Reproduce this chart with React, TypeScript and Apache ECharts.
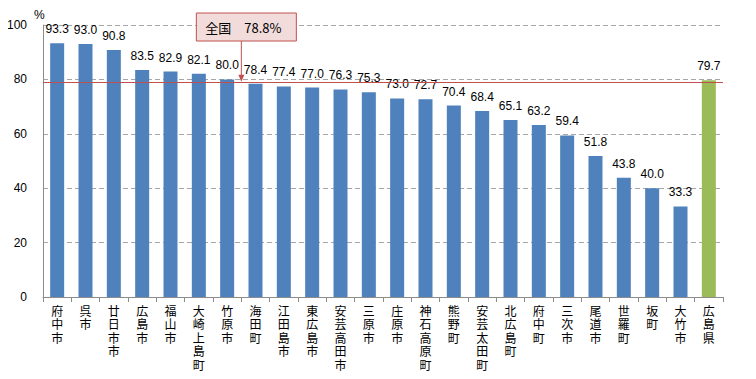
import React, { useEffect, useRef } from "react";
import * as echarts from "echarts";

const categories = [
  "府中市", "呉市", "廿日市市", "広島市", "福山市", "大崎上島町", "竹原市", "海田町",
  "江田島市", "東広島市", "安芸高田市", "三原市", "庄原市", "神石高原町", "熊野町",
  "安芸太田町", "北広島町", "府中町", "三次市", "尾道市", "世羅町", "坂町", "大竹市", "広島県",
];
const values = [
  93.3, 93.0, 90.8, 83.5, 82.9, 82.1, 80.0, 78.4, 77.4, 77.0, 76.3, 75.3, 73.0, 72.7, 70.4,
  68.4, 65.1, 63.2, 59.4, 51.8, 43.8, 40.0, 33.3, 79.7,
];
const nationalValue = 78.8;
const nationalLabel = "全国";
const calloutAfterIndex = 6; // arrow between this category and the next
const yTicks = { min: 0, max: 100, interval: 20 };

export default function App() {
  const ref = useRef<HTMLDivElement>(null);
  useEffect(() => {
    if (!ref.current) return;
    const chart = echarts.init(ref.current, undefined, { renderer: "svg" });
    const blue = "#4F81BD";
    const green = "#9BBB59";
    const red = "#C0504D";
    chart.setOption({
      animation: false,
      grid: { left: 43, right: 33, top: 25, bottom: 82 },
      xAxis: {
        type: "category",
        data: categories,
        axisLine: { lineStyle: { color: "#8C8C8C" } },
        axisTick: { show: true, length: 5, lineStyle: { color: "#8C8C8C" } },
        axisLabel: {
          interval: 0,
          margin: 8,
          fontSize: 12,
          lineHeight: 13.5,
          color: "#000",
          fontFamily: "'Liberation Sans', 'Noto Sans CJK JP'",
          verticalAlign: "top",
          formatter: (v: string) => v.split("").join("\n"),
        },
      },
      yAxis: {
        type: "value",
        min: yTicks.min,
        max: yTicks.max,
        interval: yTicks.interval,
        axisLine: { show: true, lineStyle: { color: "#8C8C8C" } },
        axisTick: { show: false },
        splitLine: { lineStyle: { color: "#A6A6A6", type: [5, 3] } },
        axisLabel: { margin: 16, fontSize: 12, color: "#000", fontFamily: "Liberation Sans" },
      },
      series: [
        {
          type: "bar",
          data: values.map((v, i) => ({
            value: v,
            itemStyle: { color: i === values.length - 1 ? green : blue },
          })),
          barWidth: 14,
          label: {
            show: true,
            position: "top",
            distance: 8,
            fontSize: 12,
            color: "#000",
            fontFamily: "Liberation Sans",
            formatter: (p: any) => p.value.toFixed(1),
          },
          markLine: {
            silent: true,
            symbol: "none",
            label: { show: false },
            lineStyle: { color: red, type: "solid", width: 1 },
            data: [{ yAxis: nationalValue }],
          },
        },
      ],
    });
    const p1 = chart.convertToPixel({ gridIndex: 0 }, [calloutAfterIndex, nationalValue]) as number[];
    const p2 = chart.convertToPixel({ gridIndex: 0 }, [calloutAfterIndex + 1, nationalValue]) as number[];
    const ax = (p1[0] + p2[0]) / 2;
    const ay = p1[1] - 1;
    const boxW = 100;
    const boxH = 28;
    const boxX = ax - 45;
    const boxY = 13;
    chart.setOption({
      graphic: [
        {
          type: "text",
          left: 34,
          top: 9,
          style: { text: "%", fontSize: 12, fill: "#000", fontFamily: "Liberation Sans" },
        },
        {
          type: "line",
          shape: { x1: ax, y1: boxY + boxH, x2: ax, y2: ay - 5 },
          style: { stroke: red, lineWidth: 1 },
        },
        {
          type: "polygon",
          shape: { points: [[ax - 3, ay - 7], [ax + 3, ay - 7], [ax, ay]] },
          style: { fill: red },
        },
        {
          type: "rect",
          shape: { x: boxX, y: boxY, width: boxW, height: boxH },
          style: { fill: "#F2DCDB", stroke: red, lineWidth: 1 },
        },
        {
          type: "text",
          x: boxX + boxW / 2 - 3,
          y: boxY + boxH / 2,
          style: {
            text: nationalLabel + "　" + nationalValue.toFixed(1) + "%",
            fontSize: 13,
            fill: "#000",
            fontFamily: "Noto Sans CJK JP",
            align: "center",
            verticalAlign: "middle",
          },
        },
      ],
    });
    return () => chart.dispose();
  }, []);
  return <div ref={ref} style={{ width: 756, height: 379, margin: -8 }} />;
}
